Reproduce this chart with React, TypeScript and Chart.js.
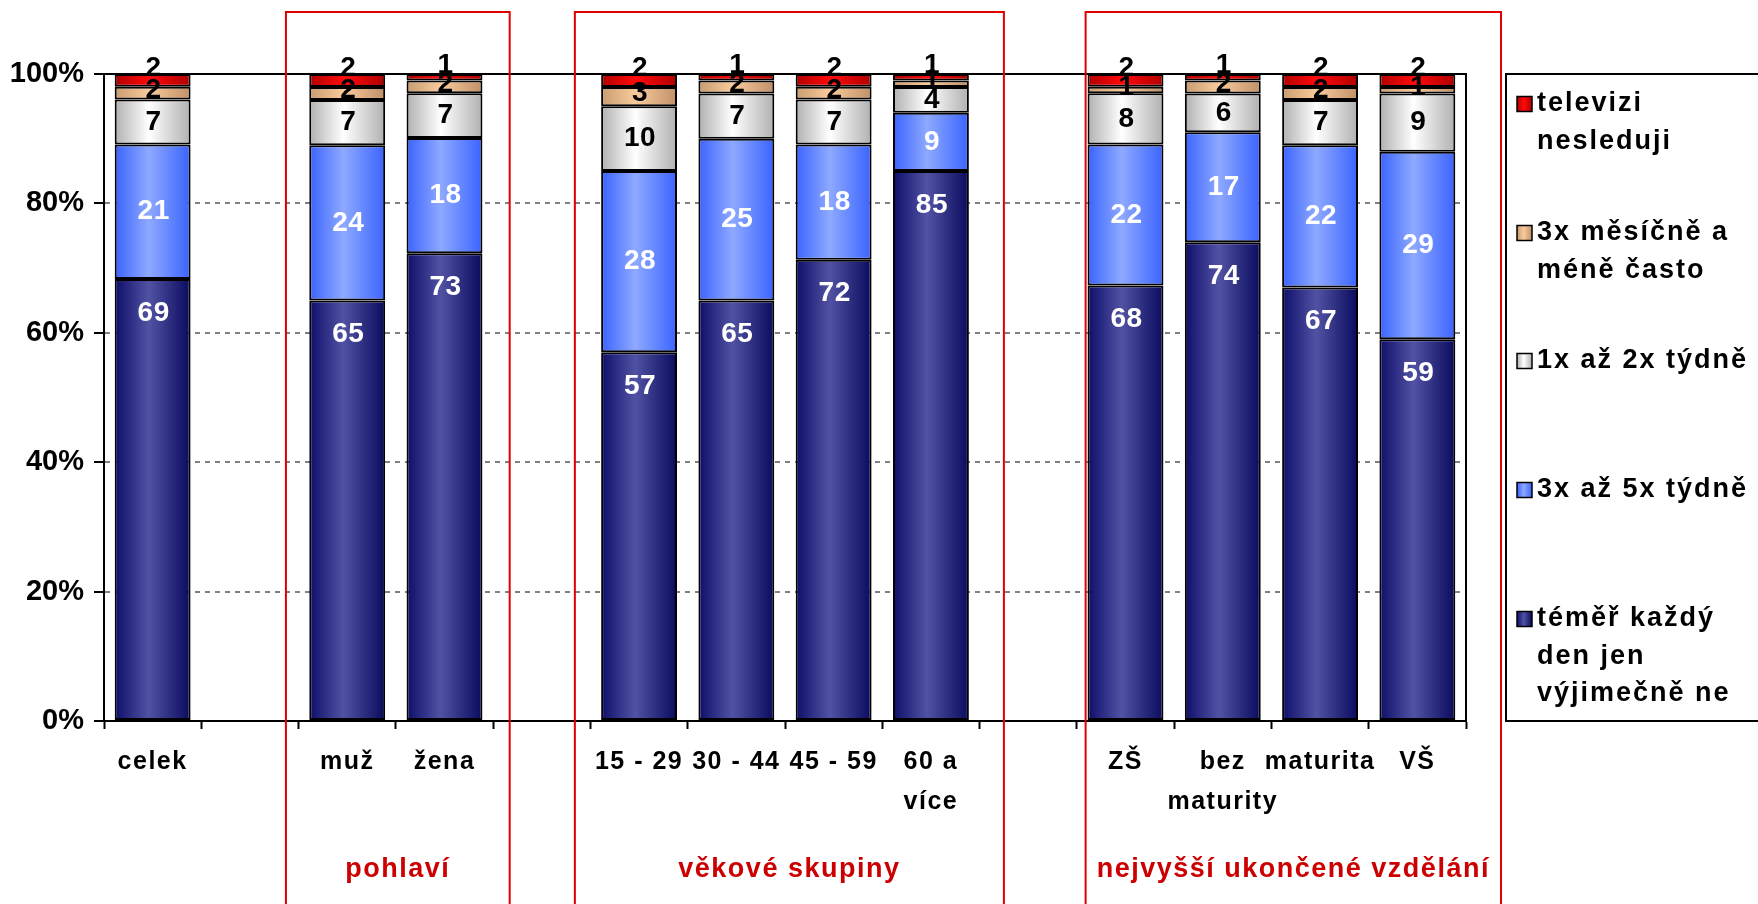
import { useEffect, useRef } from "react";
import { Chart, registerables } from "chart.js";

Chart.register(...registerables);

// ---------- data ----------
const categories: (string | string[])[] = [
  "celek", "", "muž", "žena", "", "15 - 29", "30 - 44", "45 - 59", ["60 a", "více"], "",
  "ZŠ", ["bez", "maturity"], "maturita", "VŠ",
];

const seriesNames = [
  "téměř každý den jen výjimečně ne",
  "3x až 5x týdně",
  "1x až 2x týdně",
  "3x měsíčně a méně často",
  "televizi nesleduji",
];

const legendLines = [
  ["televizi", "nesleduji"],
  ["3x měsíčně a", "méně často"],
  ["1x až 2x týdně"],
  ["3x až 5x týdně"],
  ["téměř každý", "den jen", "výjimečně ne"],
];

const dailyValues = [69, null, 65, 73, null, 57, 65, 72, 85, null, 68, 74, 67, 59];
const threeToFiveWeekly = [21, null, 24, 18, null, 28, 25, 18, 9, null, 22, 17, 22, 29];
const onceTwiceWeekly = [7, null, 7, 7, null, 10, 7, 7, 4, null, 8, 6, 7, 9];
const monthlyOrLess = [2, null, 2, 2, null, 3, 2, 2, 1, null, 1, 2, 2, 1];
const noTelevision = [2, null, 2, 1, null, 2, 1, 2, 1, null, 2, 1, 2, 2];

const groupNames = ["pohlaví", "věkové skupiny", "nejvyšší ukončené vzdělání"];

const yTickValues = [0, 20, 40, 60, 80, 100];

// ---------- styling ----------
const FONT = '"Liberation Sans", Arial, Helvetica, sans-serif';
const seriesValues = [dailyValues, threeToFiveWeekly, onceTwiceWeekly, monthlyOrLess, noTelevision];
const seriesStops = [
  ["#0e0e6a", "#5252a4", "#0a0a5e"],
  ["#3a63ff", "#8ea9ff", "#3a63ff"],
  ["#b0b0b0", "#ffffff", "#b0b0b0"],
  ["#c89c70", "#f9cb9c", "#c09068"],
  ["#b00000", "#ff0a0a", "#b00000"],
];
const seriesTextColors = ["#ffffff", "#ffffff", "#000000", "#000000", "#000000"];
const labelAtTop = [true, false, false, false, false];
const labelOffsets = [34, 0, 0, -3, -12];
const BAR_PCT = 0.78;
// group frames in category-index units (left, right)
const groupSpans = [[1.37, 3.67], [4.34, 8.75], [9.59, 13.86]];
const legendFirstY = [104, 233, 361, 490, 619];
const legendLineGap = 37.5;

function gradient(ctx: CanvasRenderingContext2D, x: number, w: number, stops: string[]) {
  const g = ctx.createLinearGradient(x - w / 2, 0, x + w / 2, 0);
  g.addColorStop(0, stops[0]);
  g.addColorStop(0.45, stops[1]);
  g.addColorStop(1, stops[2]);
  return g;
}

const totals = categories.map((_, i) =>
  seriesValues.reduce((s, arr) => s + (arr[i] ?? 0), 0)
);

const decorPlugin = {
  id: "decor",
  beforeDraw(chart: any) {
    chart.ctx.letterSpacing = "1.5px";
  },
  afterDatasetsDraw(chart: any) {
    const ctx = chart.ctx as CanvasRenderingContext2D;
    const { left, right, top, bottom } = chart.chartArea;
    // frame top & right
    ctx.save();
    ctx.strokeStyle = "#000";
    ctx.lineWidth = 2;
    ctx.beginPath();
    ctx.moveTo(left, top);
    ctx.lineTo(right, top);
    ctx.lineTo(right, bottom);
    ctx.stroke();
    ctx.restore();

    // data labels
    ctx.save();
    (ctx as any).letterSpacing = "0.5px";
    ctx.font = `bold 28px ${FONT}`;
    ctx.textAlign = "center";
    ctx.textBaseline = "middle";
    chart.data.datasets.forEach((ds: any, di: number) => {
      const meta = chart.getDatasetMeta(di);
      meta.data.forEach((el: any, i: number) => {
        const raw = seriesValues[di][i];
        if (raw == null) return;
        const y = labelAtTop[di]
          ? el.y + labelOffsets[di]
          : (el.y + el.base) / 2 + labelOffsets[di];
        ctx.fillStyle = seriesTextColors[di];
        ctx.fillText(String(raw), el.x + 1, y);
      });
    });
    ctx.restore();
    (ctx as any).letterSpacing = "0px";
  },
  afterDraw(chart: any) {
    const ctx = chart.ctx as CanvasRenderingContext2D;
    const xs = chart.scales.x;
    ctx.save();
    // group frames
    ctx.strokeStyle = "#e00000";
    ctx.lineWidth = 2;
    (ctx as any).letterSpacing = "1.5px";
    ctx.font = `bold 27px ${FONT}`;
    ctx.textAlign = "center";
    ctx.textBaseline = "middle";
    groupSpans.forEach((span, gi) => {
      const l = xs.getPixelForValue(span[0]);
      const r = xs.getPixelForValue(span[1]);
      ctx.strokeRect(l, 12, r - l, 1000);
      ctx.fillStyle = "#cc0000";
      ctx.fillText(groupNames[gi], (l + r) / 2, 870);
    });

    // legend
    const lx = 1506;
    ctx.strokeStyle = "#000";
    ctx.lineWidth = 2;
    ctx.strokeRect(lx, chart.chartArea.top, 400, chart.chartArea.bottom - chart.chartArea.top);
    ctx.font = `bold 27px ${FONT}`;
    ctx.textAlign = "left";
    (ctx as any).letterSpacing = "2px";
    const order = [4, 3, 2, 1, 0];
    order.forEach((si, k) => {
      const y0 = legendFirstY[k];
      const mx = 1517;
      const ms = 15;
      ctx.fillStyle = gradient(ctx, mx + ms / 2, ms, seriesStops[si]);
      ctx.fillRect(mx, y0 - ms / 2, ms, ms);
      ctx.lineWidth = 1.5;
      ctx.strokeStyle = "#000";
      ctx.strokeRect(mx, y0 - ms / 2, ms, ms);
      ctx.fillStyle = "#000";
      legendLines[k].forEach((line, li) => {
        ctx.fillText(line, 1537, y0 + li * legendLineGap);
      });
    });
    ctx.restore();
    (ctx as any).letterSpacing = "0px";
  },
};

export default function App() {
  const ref = useRef<HTMLCanvasElement | null>(null);

  useEffect(() => {
    document.body.style.margin = "0";
    const canvas = ref.current;
    if (!canvas) return;

    const datasets = seriesValues.map((vals, si) => ({
      label: seriesNames[si],
      data: vals.map((v, i) => (v == null ? null : (v / totals[i]) * 100)),
      stack: "s",
      borderColor: "#000",
      borderWidth: 2,
      borderSkipped: false,
      barPercentage: BAR_PCT,
      categoryPercentage: 1,
      backgroundColor: (c: any) => {
        const chart = c.chart;
        const xs = chart.scales?.x;
        if (!xs || c.type !== "data" || !chart.chartArea) return seriesStops[si][1];
        const x = xs.getPixelForValue(c.dataIndex);
        const w = (xs.width / categories.length) * BAR_PCT;
        return gradient(chart.ctx, x, w, seriesStops[si]);
      },
    }));

    const chart = new Chart(canvas, {
      type: "bar",
      data: { labels: categories, datasets },
      options: {
        responsive: false,
        animation: false,
        devicePixelRatio: 1,
        layout: { padding: { left: 0, right: 292, top: 74, bottom: 83 } },
        plugins: { legend: { display: false }, tooltip: { enabled: false } },
        scales: {
          x: {
            stacked: true,
            offset: true,
            grid: {
              display: true,
              offset: true,
              drawOnChartArea: false,
              drawTicks: true,
              tickLength: 8,
              tickColor: "#000",
              tickWidth: 2,
            },
            border: { display: true, color: "#000", width: 2 },
            ticks: {
              color: "#000",
              font: { family: FONT, size: 25, weight: "bold", lineHeight: 1.6 },
              padding: 13,
              maxRotation: 0,
              minRotation: 0,
              autoSkip: false,
            },
            afterFit: (s: any) => {
              s.height = 100;
            },
          },
          y: {
            stacked: true,
            min: 0,
            max: 100,
            afterBuildTicks: (s: any) => {
              s.ticks = yTickValues.map((v) => ({ value: v }));
            },
            ticks: {
              stepSize: 20,
              callback: (v: any) => v + "%",
              color: "#000",
              font: { family: FONT, size: 29, weight: "bold" },
              padding: 10,
              z: 1,
            },
            grid: { color: "#808080", lineWidth: 2, tickColor: "#000", tickLength: 10, tickWidth: 2 },
            border: { display: true, color: "#000", width: 2, dash: [5, 5] },
            afterFit: (s: any) => {
              s.width = 104;
            },
          },
        },
      },
      plugins: [decorPlugin],
    } as any);

    return () => chart.destroy();
  }, []);

  return (
    <canvas
      ref={ref}
      width={1758}
      height={904}
      style={{ display: "block", width: 1758, height: 904 }}
    />
  );
}
